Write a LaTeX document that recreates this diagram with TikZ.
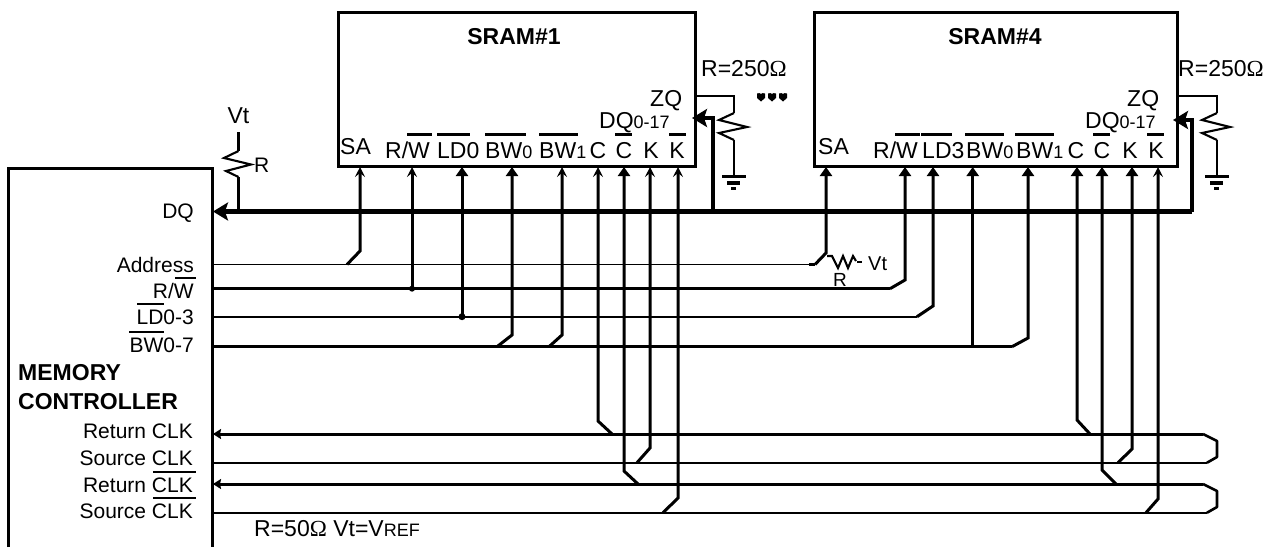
\documentclass[tikz,border=0pt]{standalone}
\usepackage{fontspec}
\setmainfont{Liberation Sans}
\newfontfamily\serifom{Liberation Serif}
\usetikzlibrary{arrows.meta}
\newcommand{\bigf}{\fontsize{23}{23}\selectfont}
\newcommand{\midf}{\fontsize{21}{21}\selectfont}
\newcommand{\smf}{\fontsize{18}{18}\selectfont}
\newcommand{\sm}[1]{{\smf #1}}
\newcommand{\ohm}{{\serifom\char"03A9}}
\tikzset{
  box/.style={draw=black,line width=3pt,fill=none,anchor=north west,inner sep=0pt,outer sep=0pt},
  lbl/.style={inner sep=0pt,anchor=base west,font=\bigf,text=black},
  lblr/.style={lbl,anchor=base east,font=\midf},
  lblc/.style={lbl,anchor=base},
  ttl/.style={lbl,font=\bigf\bfseries,text=black},
  ttlc/.style={ttl,anchor=base},
  bar/.style={line width=2.8pt},
  bus/.style={line width=4.4pt},
  thick bus/.style={line width=3pt},
  thin bus/.style={line width=1.8pt},
  pinline/.style={line width=3pt},
  pin/.style={pinline,-{Stealth[length=10pt,width=10pt,inset=4pt]}},
  pinf/.style={pinline,-{Stealth[length=9pt,width=12pt,inset=0pt]}},
  ret/.style={thick bus,-{Stealth[length=8pt,width=10pt,inset=1pt]}},
  dqa/.style={bus,line join=miter,-{Stealth[length=15pt,width=18pt,inset=3pt]}},
  wire/.style={line width=2.6pt},
  zig/.style={line width=2.1pt},
  gnd/.style={line width=3.2pt},
  dotc/.style={circle,fill=black,inner sep=0pt,minimum size=6pt},
}
\begin{document}
\begin{tikzpicture}[x=1pt,y=-1pt]
\useasboundingbox (0,0) rectangle (1279,547);
% blocks
\node[box,minimum width=357pt,minimum height=153.5pt] (sramA) at (338,12.5) {};
\node[box,minimum width=363pt,minimum height=153.5pt] (sramB) at (814,12.5) {};
\coordinate (cBL) at (8.5,547); \coordinate (cTL) at (8.5,168);
\coordinate (cTR) at (212,168); \coordinate (cBR) at (212,547);
\draw[line width=3pt,line join=miter] (cBL)--(cTL)--(cTR)--(cBR);
% titles
\node[ttlc] (tA) at (514,44) {SRAM\#1};
\node[ttlc] (tB) at (995,44) {SRAM\#4};
\node[ttl] (tC1) at (18,380) {MEMORY};
\node[ttl] (tC2) at (18,409) {CONTROLLER};
% SRAM1 labels
\node[lbl] (a1) at (340,154) {SA};
\node[lbl] (a2) at (385,158) {R/W};
\draw[bar] (407,134.5)--(432,134.5);
\node[lbl] (a3) at (437,158) {LD0};
\draw[bar] (437,134.5)--(470,134.5);
\node[lbl] (a4) at (485,158) {BW\sm{0}};
\draw[bar] (485,134.5)--(526,134.5);
\node[lbl] (a5) at (539,158) {BW\sm{1}};
\draw[bar] (539,134.5)--(578,134.5);
\node[lblc] (a6) at (598,158) {C};
\node[lblc] (a7) at (624,158) {C};
\draw[bar] (615,134.5)--(632,134.5);
\node[lblc] (a8) at (651,158) {K};
\node[lblc] (a9) at (677,158) {K};
\draw[bar] (669,134.5)--(686,134.5);
\node[lbl] (a10) at (650,106) {ZQ};
\node[lbl] (a11) at (599,128) {DQ\sm{0-17}};
\node[lbl] (a12) at (701,76) {R=250\ohm};
% SRAM4 labels
\node[lbl] (b1) at (818,154) {SA};
\node[lbl] (b2) at (873,158) {R/W};
\draw[bar] (895,134.5)--(920,134.5);
\node[lbl] (b3) at (922,158) {LD3};
\draw[bar] (921,134.5)--(952,134.5);
\node[lbl] (b4) at (966,158) {BW\sm{0}};
\draw[bar] (965,134.5)--(1004,134.5);
\node[lbl] (b5) at (1016,158) {BW\sm{1}};
\draw[bar] (1015,134.5)--(1054,134.5);
\node[lblc] (b6) at (1076,158) {C};
\node[lblc] (b7) at (1102,158) {C};
\draw[bar] (1093,134.5)--(1110,134.5);
\node[lblc] (b8) at (1130,158) {K};
\node[lblc] (b9) at (1156,158) {K};
\draw[bar] (1147,134.5)--(1164,134.5);
\node[lbl] (b10) at (1127,106) {ZQ};
\node[lbl] (b11) at (1085,128) {DQ\sm{0-17}};
\node[lbl] (b12) at (1178,76) {R=250\ohm};
% controller labels
\node[lblr] (c1) at (194,218) {DQ};
\node[lblr] (c2) at (194,272) {Address};
\node[lblr] (c3) at (194,298) {R/W};
\draw[bar] (175,278)--(196,278);
\node[lblr] (c4) at (194,324) {LD0-3};
\draw[bar] (137,304)--(164,304);
\node[lblr] (c5) at (194,352) {BW0-7};
\draw[bar] (129,332)--(164,332);
\node[lblr] (c6) at (193,438) {Return CLK};
\node[lblr] (c7) at (193,465) {Source CLK};
\draw[bar] (153,472)--(196,472);
\node[lblr] (c8) at (193,492) {Return CLK};
\draw[bar] (153,498)--(196,498);
\node[lblr] (c9) at (193,518) {Source CLK};
\node[lbl] (c10) at (254,536) {R=50\ohm\ Vt=V\sm{REF}};
% DQ bus
\coordinate (dqC) at (213,211.5);
\coordinate (dqJ) at (713,211.5);
\coordinate (dqE) at (1192,211.5);
\coordinate (dqAt) at (692,118);
\coordinate (dqAc) at (713,118);
\coordinate (dqBt) at (1173,120);
\coordinate (dqBc) at (1192,120);
\draw[dqa] (dqE)--(dqC);
\draw[dqa] (dqJ)--(dqAc)--(dqAt);
\draw[dqa] (dqE)--(dqBc)--(dqBt);
% Vt resistor
\node[lblc] (vt1) at (238.5,123) {Vt};
\node[lbl,font=\midf] (rv) at (254,172) {R};
\coordinate (vtT) at (238.5,132); \coordinate (vtB) at (238.5,211);
\draw[wire] (vtT)--(238.5,151);
\draw[zig,line join=miter] (238.5,151)--(224,158)--(251,164.5)--(226,171)--(238.5,177);
\draw[wire] (238.5,177)--(vtB);
% ZQ resistors and grounds
\foreach \n/\zx/\bx in {A/734/695,B/1217/1177}{
  \coordinate (zq\n) at (\bx,96);
  \coordinate (zqk\n) at (\zx,96);
  \coordinate (gnd\n) at (\zx,176);
  \draw[wire,line join=miter] (zq\n)--(zqk\n)--(\zx,113);
  \draw[zig,line join=miter] (\zx,113)--(\zx-15,120)--(\zx+13,127)--(\zx-15,133)--(\zx,140);
  \draw[wire] (\zx,140)--(gnd\n);
  \draw[gnd] (\zx-12,176.5)--(\zx+12,176.5);
  \draw[gnd] (\zx-7,183)--(\zx+6,183);
  \draw[gnd] (\zx-3,188.5)--(\zx+2,188.5);
}
% ellipsis marks
\foreach \ex in {761,772,783}{
  \fill (\ex-4,93.5) .. controls (\ex-2,92.8) and (\ex-1,93) .. (\ex,94)
        .. controls (\ex+1,93) and (\ex+2,92.8) .. (\ex+4,93.5)
        -- (\ex+4,98) -- (\ex,101.5) -- (\ex-4,98) -- cycle;
}
% Address
\coordinate (adS) at (213,264.5); \coordinate (adE) at (809,264.5);
\coordinate (adK) at (815,264.5); \coordinate (adJ) at (347,264.5);
\draw[thin bus] (adS)--(adE);
\draw[thick bus] (adE)--(adK);
\draw[pin] (adJ)--(360,251)--(360,167);
\draw[pinf] (adK)--(826,253)--(826,167);
\draw[zig,line join=miter] (827,256)--(832,256)--(838,268)--(843,256)--(848,268)--(853,256)--(856,261);
\draw[wire] (857,262)--(862,262);
\node[lbl,font=\fontsize{20}{20}\selectfont] (vt2) at (868,270) {Vt};
\node[lblc,font=\fontsize{19}{19}\selectfont] (r2) at (840,286) {R};
% R/W
\coordinate (rwS) at (213,288.7); \coordinate (rwE) at (890,288.7);
\coordinate (rwJ) at (412,288.7);
\draw[thick bus] (rwS)--(rwE);
\draw[pinf,line join=miter] (rwE)--(905,280)--(905,167);
\draw[pin] (rwJ)--(412,167);
\node[dotc] (rwD) at (rwJ) {};
% LD
\coordinate (ldS) at (213,316.7); \coordinate (ldE) at (917,316.7);
\coordinate (ldJ) at (462,316.7);
\draw[thin bus] (ldS)--(ldE);
\draw[pinf] (ldE)--(933,306)--(933,167);
\draw[pinf] (ldJ)--(462,167);
\node[dotc,minimum size=7pt] (ldD) at (ldJ) {};
% BW
\coordinate (bwS) at (213,346.7); \coordinate (bwE) at (1012,346.7);
\coordinate (bwA) at (497,346.7); \coordinate (bwB) at (549,346.7);
\coordinate (bwC) at (972.7,346.7);
\draw[thick bus] (bwS)--(bwE);
\draw[pinf] (bwE)--(1028,338)--(1028,167);
\draw[pinf] (bwC)--(972.7,167);
\draw[pinf] (bwA)--(512,335)--(512,167);
\draw[pin] (bwB)--(562,335)--(562,167);
% clock buses
\coordinate (rcS) at (213,434); \coordinate (rcE) at (1203,434);
\coordinate (scS) at (213,462.7); \coordinate (scE) at (1207,462.7);
\coordinate (rbS) at (213,484); \coordinate (rbE) at (1203,484);
\coordinate (sbS) at (213,512.7); \coordinate (sbE) at (1207,512.7);
\draw[ret] (rcE)--(rcS);
\draw[ret] (rbE)--(rbS);
\draw[thin bus] (scS)--(scE);
\draw[thin bus] (sbS)--(sbE);
\draw[wire,line join=round] (rcE)--(1217,441)--(1217,457)--(scE);
\draw[wire,line join=round] (rbE)--(1217,491)--(1217,507)--(sbE);
% SRAM1 clock pins
\draw[pin] (612,434)--(598,421)--(598,167);
\draw[pinf] (638,484)--(624,471)--(624,167);
\draw[pin] (637,462.7)--(650,448)--(650,167);
\draw[pin] (663,512.7)--(678,498)--(678,167);
% SRAM4 clock pins
\draw[pinf] (1090,434)--(1077,420)--(1077,167);
\draw[pinf] (1116,484)--(1102,470)--(1102,167);
\draw[pinf] (1118,462.7)--(1132,449)--(1132,167);
\draw[pin] (1146,512.7)--(1158,499)--(1158,167);
\end{tikzpicture}
\end{document}
